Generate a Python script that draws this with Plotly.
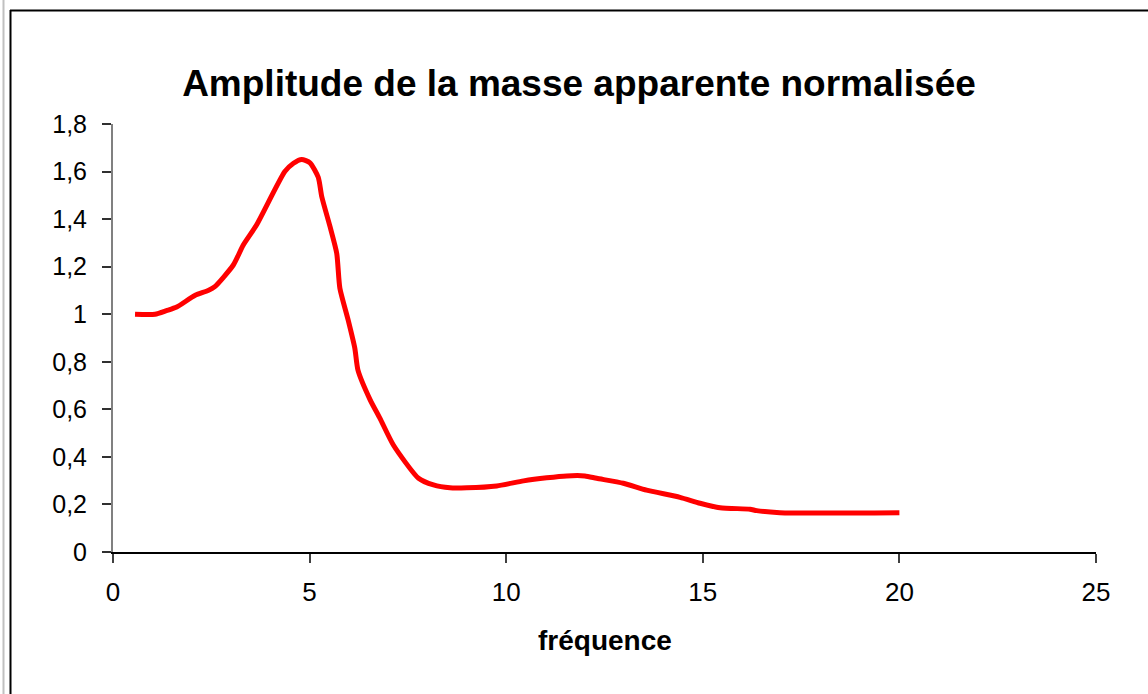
import plotly.graph_objects as go

# Measured normalised apparent-mass amplitude vs frequency
frequence = [0.56, 1.07, 1.36, 1.62, 2.09, 2.42, 2.59, 3.06, 3.31, 3.65, 4.37, 4.59,
             4.80, 5.01, 5.22, 5.31, 5.52, 5.69, 5.77, 5.98, 6.15, 6.23, 6.54, 6.79,
             7.13, 7.77, 8.15, 8.57, 9.00, 9.76, 10.44, 11.03, 11.54, 12.00, 12.30,
             12.98, 13.57, 14.42, 14.93, 15.44, 16.20, 16.37, 16.96, 20.00]
amplitude = [1.00, 1.00, 1.015, 1.03, 1.08, 1.10, 1.116, 1.207, 1.29, 1.375, 1.60, 1.635,
             1.651, 1.637, 1.576, 1.494, 1.368, 1.256, 1.109, 0.976, 0.857, 0.765, 0.64, 0.562,
             0.45, 0.31, 0.282, 0.27, 0.27, 0.278, 0.299, 0.312, 0.32, 0.32, 0.31,
             0.289, 0.26, 0.23, 0.205, 0.186, 0.18, 0.174, 0.165, 0.165]

y_ticks = [0, 0.2, 0.4, 0.6, 0.8, 1.0, 1.2, 1.4, 1.6, 1.8]
y_tick_text = ["0", "0,2", "0,4", "0,6", "0,8", "1", "1,2", "1,4", "1,6", "1,8"]
x_ticks = [0, 5, 10, 15, 20, 25]

W, H = 1148, 694
L, R, T, B = 113, 52, 124, 142
PW, PH = W - L - R, H - T - B


def px(x):
    return (x - L) / PW


def py(y):
    return (H - B - y) / PH


FONT = "Liberation Sans, Arial, sans-serif"

fig = go.Figure()
fig.add_trace(go.Scatter(
    x=frequence, y=amplitude, mode="lines",
    line=dict(color="#ff0000", width=5, shape="spline", smoothing=0.6),
    showlegend=False, hoverinfo="skip",
))

fig.update_layout(
    width=W, height=H,
    margin=dict(l=L, r=R, t=T, b=B, pad=0),
    paper_bgcolor="white", plot_bgcolor="white",
    font=dict(family=FONT, color="black"),
    title=dict(text="<b>Amplitude de la masse apparente normalisée</b>",
               xref="container", x=579 / W, xanchor="center",
               yref="container", y=1 - 83 / H, yanchor="middle",
               font=dict(size=37, family=FONT, color="black")),
    xaxis=dict(range=[0, 25], tickvals=x_ticks, ticktext=[str(v) for v in x_ticks],
               showgrid=False, zeroline=False, showline=True, linecolor="black",
               linewidth=1.5, ticks="outside", ticklen=9, tickcolor="#404040",
               tickwidth=1.5, tickfont=dict(size=26, family=FONT, color="black"),
               ticklabelstandoff=7),
    yaxis=dict(range=[0, 1.8], tickvals=y_ticks, ticktext=y_tick_text,
               showgrid=False, zeroline=False, showline=True, linecolor="#808080",
               linewidth=2, ticks="outside", ticklen=9, tickcolor="#303030",
               tickwidth=1.5, tickfont=dict(size=25, family=FONT, color="black"),
               ticklabelstandoff=10),
    annotations=[dict(text="<b>fréquence</b>", xref="paper", yref="paper",
                      x=0.5, y=py(640), xanchor="center", yanchor="middle",
                      showarrow=False, font=dict(size=28, family=FONT, color="black"))],
    shapes=[
        dict(type="line", xref="paper", yref="paper", x0=px(3.5), x1=px(3.5),
             y0=py(0), y1=py(H + 5), line=dict(color="#c0c0c0", width=2)),
        dict(type="line", xref="paper", yref="paper", x0=px(10.5), x1=px(10.5),
             y0=py(10), y1=py(H + 5), line=dict(color="black", width=2)),
        dict(type="line", xref="paper", yref="paper", x0=px(10), x1=px(W + 5),
             y0=py(10.5), y1=py(10.5), line=dict(color="black", width=2)),
    ],
)

fig.write_html("out.html")
